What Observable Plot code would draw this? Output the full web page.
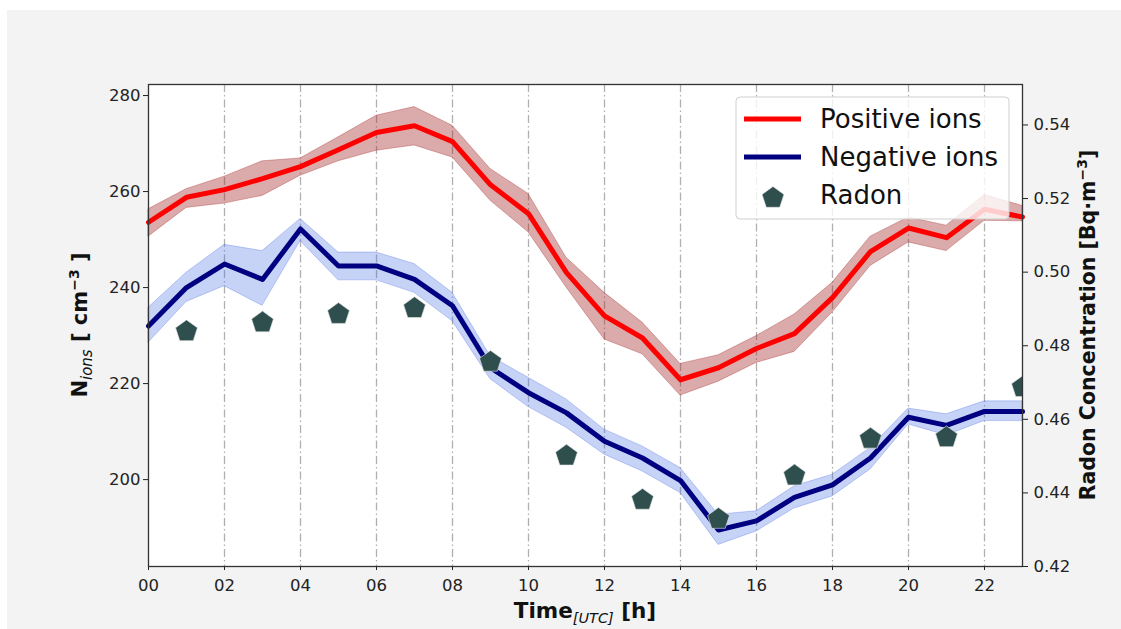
<!DOCTYPE html>
<html><head><meta charset="utf-8">
<script src="https://cdn.jsdelivr.net/npm/d3@7"></script>
<script src="https://cdn.jsdelivr.net/npm/@observablehq/plot@0.6"></script>
<style>
html,body{margin:0;padding:0;background:#fff;width:1121px;height:629px;overflow:hidden;font-family:"DejaVu Sans",sans-serif;}
#bg{position:absolute;left:7px;top:10px;width:1114px;height:619px;background:#f3f3f3;}
#chart{position:absolute;left:0;top:0;width:1121px;height:629px;}
</style></head><body>
<div id="bg"></div><div id="chart"></div>
<script>
// ---- data ----
const hours = [0,1,2,3,4,5,6,7,8,9,10,11,12,13,14,15,16,17,18,19,20,21,22,23];
const posIons = [253.6,258.8,260.4,262.7,265.2,268.7,272.3,273.7,270.4,261.4,255.4,243.1,234.1,229.5,220.8,223.3,227.3,230.4,237.9,247.5,252.4,250.4,256.3,254.7];
const posLow  = [250.6,256.6,257.5,259.1,263.3,266.3,268.5,269.6,267.1,258.1,251.5,240.0,229.2,226.1,217.5,220.4,224.3,226.6,234.8,244.5,249.4,247.6,253.9,253.8];
const posHigh = [256.3,260.5,263.1,266.3,266.9,271.3,275.8,277.6,273.7,264.7,259.5,246.2,238.9,232.7,224.1,225.9,229.9,234.4,241.0,250.6,254.6,252.9,259.3,257.0];
const negIons = [232.0,240.0,244.9,241.7,252.2,244.5,244.5,241.7,236.2,223.3,218.1,213.9,208.0,204.5,199.8,189.5,191.4,196.3,198.9,204.5,213.0,211.3,214.2,214.2];
const negLow  = [228.5,237.0,240.3,236.2,249.7,241.5,241.5,238.9,233.0,220.9,215.1,210.8,205.2,201.7,197.2,186.4,189.2,194.0,196.5,202.1,211.5,209.2,212.2,212.2];
const negHigh = [235.8,243.1,248.9,247.6,254.3,247.3,247.3,244.9,238.9,225.7,221.2,216.7,210.4,206.9,202.4,192.7,193.4,198.6,201.0,206.6,214.8,213.6,216.3,216.3];
const radonHours = [1,3,5,7,9,11,13,15,17,19,21,23];
const radon = [0.4839,0.4863,0.4886,0.4902,0.4756,0.4501,0.4381,0.4329,0.4447,0.4547,0.4551,0.4687];
const xTicks = [0,2,4,6,8,10,12,14,16,18,20,22];
const gridHours = [2,4,6,8,10,12,14,16,18,20,22];
const leftTicks = [200,220,240,260,280];
const radonTicks = [0.42,0.44,0.46,0.48,0.50,0.52,0.54];
const legendLabels = ["Positive ions","Negative ions","Radon"];

// ---- scales for dual axis ----
const yDom = [181.9, 282.3];
const rDom = [0.42, 0.551];
const toLeft = r => yDom[0] + (r - rDom[0]) / (rDom[1] - rDom[0]) * (yDom[1] - yDom[0]);
const fromLeft = v => rDom[0] + (v - yDom[0]) / (yDom[1] - yDom[0]) * (rDom[1] - rDom[0]);

const pentagon = {
  draw(ctx, size) {
    const R = Math.sqrt(size / 2.3776);
    for (let k = 0; k < 5; k++) {
      const a = -Math.PI / 2 + k * 2 * Math.PI / 5;
      const x = R * Math.cos(a), y = R * Math.sin(a);
      if (k) ctx.lineTo(x, y); else ctx.moveTo(x, y);
    }
    ctx.closePath();
  }
};

const ionRows = hours.map((h, i) => ({h, pos: posIons[i], posLo: posLow[i], posHi: posHigh[i], neg: negIons[i], negLo: negLow[i], negHi: negHigh[i]}));
const radonRows = radonHours.map((h, i) => ({h, r: radon[i], yl: toLeft(radon[i])}));

const plot = Plot.plot({
  width: 1121, height: 629,
  marginLeft: 148, marginRight: 99, marginTop: 84, marginBottom: 63,
  style: {background: "transparent", fontFamily: "DejaVu Sans", fontSize: "16.5px", color: "#222"},
  x: {domain: [0, 23]},
  y: {domain: yDom},
  marks: [
    Plot.frame({fill: "white"}),
    Plot.ruleX(gridHours, {stroke: "#b0b0b0", strokeWidth: 1.3, strokeDasharray: "8,3,1.5,3"}),
    Plot.areaY(ionRows, {x: "h", y1: "posLo", y2: "posHi", fill: "brown", fillOpacity: 0.4, stroke: "brown", strokeOpacity: 0.35, strokeWidth: 1}),
    Plot.areaY(ionRows, {x: "h", y1: "negLo", y2: "negHi", fill: "royalblue", fillOpacity: 0.3, stroke: "royalblue", strokeOpacity: 0.3, strokeWidth: 1}),
    Plot.lineY(ionRows, {x: "h", y: "pos", stroke: "red", strokeWidth: 5}),
    Plot.lineY(ionRows, {x: "h", y: "neg", stroke: "navy", strokeWidth: 5}),
    Plot.dot(radonRows, {x: "h", y: "yl", symbol: pentagon, r: 10, fill: "#2f4f4f", stroke: "#e6e6e6", strokeWidth: 0.6, clip: true}),
    Plot.axisX({ticks: xTicks, tickFormat: d => String(d).padStart(2, "0"), tickSize: 4, tickPadding: 9, label: null}),
    Plot.axisY({ticks: leftTicks, tickSize: 5, tickPadding: 3, label: null}),
    Plot.axisY({anchor: "right", ticks: radonTicks.map(toLeft), tickFormat: d => fromLeft(d).toFixed(2), tickSize: 5, tickPadding: 6, label: null}),
    Plot.frame({stroke: "#333", strokeWidth: 1.3})
  ]
});
document.getElementById("chart").appendChild(plot);

const svg = d3.select(plot);
const F = "DejaVu Sans";

// left axis label
const ll = svg.append("text").attr("transform", "translate(87,325) rotate(-90)")
  .attr("text-anchor", "middle").attr("font-family", F).attr("font-size", 21).attr("font-weight", "bold").attr("fill", "#111");
ll.append("tspan").text("N");
ll.append("tspan").attr("font-size", 15).attr("font-weight", "normal").attr("font-style", "italic").attr("dy", 5).text("ions");
ll.append("tspan").attr("dy", -5).text(" [ cm");
ll.append("tspan").attr("font-size", 14).attr("dy", -8).text("\u22123");
ll.append("tspan").attr("dy", 8).text(" ]");

// right axis label
const rl = svg.append("text").attr("transform", "translate(1095,325) rotate(-90)")
  .attr("text-anchor", "middle").attr("font-family", F).attr("font-size", 20.5).attr("font-weight", "bold").attr("fill", "#111");
rl.append("tspan").text("Radon Concentration [Bq\u00B7m");
rl.append("tspan").attr("font-size", 14).attr("dy", -8).text("\u22123");
rl.append("tspan").attr("dy", 8).text("]");

// x axis label
const xl = svg.append("text").attr("x", 585).attr("y", 618)
  .attr("text-anchor", "middle").attr("font-family", F).attr("font-size", 21.5).attr("font-weight", "bold").attr("fill", "#111");
xl.append("tspan").text("Time");
xl.append("tspan").attr("font-size", 14.5).attr("font-weight", "normal").attr("font-style", "italic").attr("dy", 5).text("[UTC]");
xl.append("tspan").attr("dy", -5).text(" [h]");

// legend
const lg = svg.append("g");
lg.append("rect").attr("x", 736).attr("y", 97).attr("width", 273).attr("height", 122).attr("rx", 4)
  .attr("fill", "white").attr("fill-opacity", 0.8).attr("stroke", "#cfcfcf").attr("stroke-width", 1);
const legColors = ["red", "navy"];
[0, 1].forEach(i => {
  const y = 119 + i * 38;
  lg.append("line").attr("x1", 744).attr("x2", 801).attr("y1", y).attr("y2", y).attr("stroke", legColors[i]).attr("stroke-width", 5);
});
lg.append("path").attr("transform", "translate(773,198)").attr("d", d3.symbol(pentagon, 314)()).attr("fill", "#2f4f4f").attr("stroke", "#e6e6e6").attr("stroke-width", 0.6);
legendLabels.forEach((t, i) => {
  lg.append("text").attr("x", 820).attr("y", 128 + i * 38).attr("text-anchor", "start").attr("font-family", F).attr("font-size", 26).attr("fill", "#111").text(t);
});
</script>
</body></html>
